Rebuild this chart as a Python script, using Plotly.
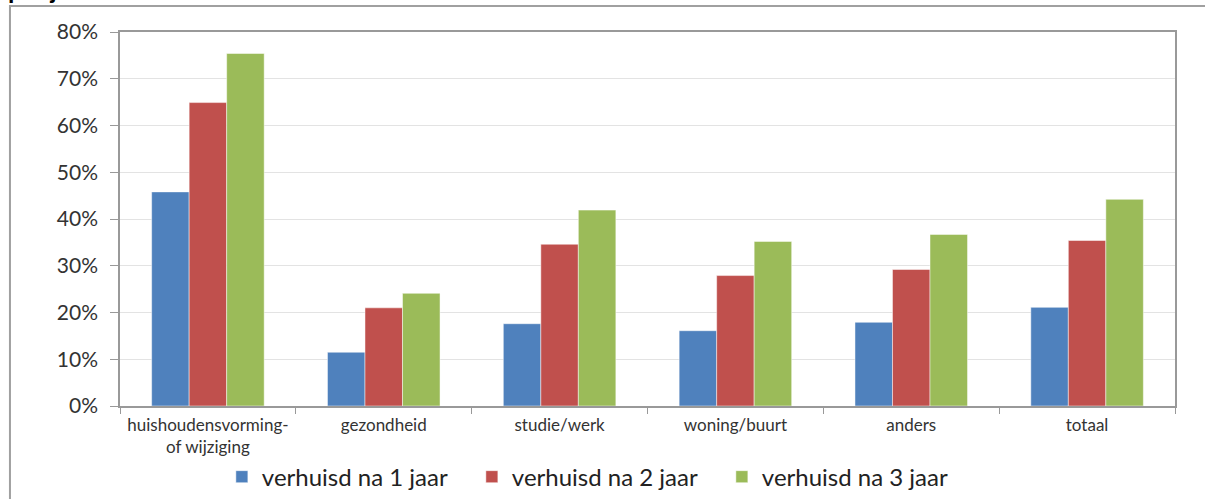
import plotly.graph_objects as go

categories = ["huishoudensvorming-<br>of wijziging", "gezondheid", "studie/werk",
              "woning/buurt", "anders", "totaal"]
na_1_jaar = [45.8, 11.5, 17.6, 16.1, 17.9, 21.1]
na_2_jaar = [64.9, 21.0, 34.6, 27.9, 29.2, 35.4]
na_3_jaar = [75.4, 24.1, 41.9, 35.2, 36.7, 44.2]
series_names = ["verhuisd na 1 jaar", "verhuisd na 2 jaar", "verhuisd na 3 jaar"]
colors = ["#4F81BD", "#C0504D", "#9BBB59"]
y_ticks = [0, 10, 20, 30, 40, 50, 60, 70, 80]
y_ticklabels = [f"{v}%" for v in y_ticks]

FONT = "Lato, Open Sans, sans-serif"

fig = go.Figure()
for name, vals, col in zip(series_names, [na_1_jaar, na_2_jaar, na_3_jaar], colors):
    fig.add_trace(go.Bar(x=categories, y=vals, name=name,
                         marker=dict(color=col, line=dict(color="rgba(255,255,255,0.6)", width=0.8))))

fig.update_layout(
    width=1205, height=499,
    margin=dict(l=120, r=30, t=32, b=93, autoexpand=False),
    paper_bgcolor="white", plot_bgcolor="white",
    barmode="group", bargap=0.36, bargroupgap=0,
    font=dict(family=FONT, color="#404040", size=15),
    showlegend=True,
    legend=dict(orientation="h", x=0.452, xanchor="center", y=-0.19, yanchor="middle",
                font=dict(size=24, color="#222222", family=FONT),
                entrywidth=205, entrywidthmode="pixels", itemwidth=30,
                bgcolor="rgba(0,0,0,0)"),
    xaxis=dict(type="category", showline=True, linecolor="#999999", linewidth=1.5,
               mirror=True, ticks="outside", tickson="boundaries", ticklen=6,
               tickcolor="#999999", tickfont=dict(size=17, color="#333333"),
               ticklabelstandoff=3, showgrid=False, automargin=False),
    yaxis=dict(range=[0, 80], tickvals=y_ticks, ticktext=y_ticklabels,
               showline=True, linecolor="#999999", linewidth=1.5, mirror=True,
               ticks="outside", ticklen=8, tickcolor="#999999",
               showgrid=True, gridcolor="#e3e3e3", gridwidth=1,
               tickfont=dict(size=21, color="#333333"), zeroline=False,
               ticklabelstandoff=8, automargin=False),
)

# outer chart border
fig.add_shape(type="rect", xref="paper", yref="paper",
              x0=-0.1043, x1=1.1, y0=-0.35, y1=1.0695,
              line=dict(color="#a0a0a0", width=2), fillcolor="rgba(0,0,0,0)", layer="below")

# cut-off title at the top
fig.add_annotation(text="<b>per jaar 2009</b>", xref="paper", yref="paper",
                   x=-0.108, y=1.072, xanchor="left", yanchor="bottom",
                   showarrow=False, font=dict(size=23, color="#000000", family="Liberation Sans, Arial"))

fig.write_html("out.html", config={"displayModeBar": False},
               post_script="document.body.style.margin='0px';")
